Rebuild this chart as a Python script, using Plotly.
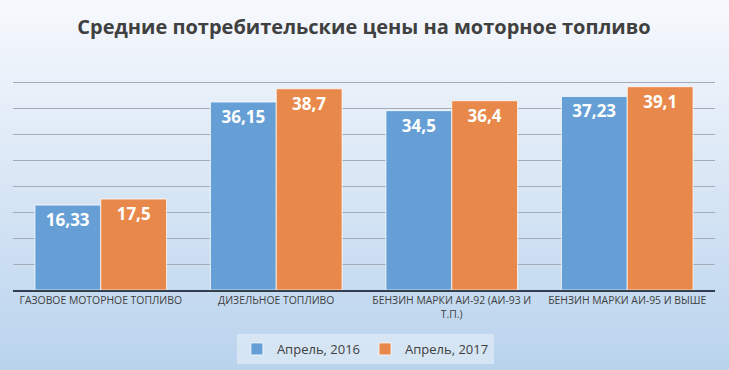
import plotly.graph_objects as go

categories = ["ГАЗОВОЕ МОТОРНОЕ ТОПЛИВО", "ДИЗЕЛЬНОЕ ТОПЛИВО",
              "БЕНЗИН МАРКИ АИ-92 (АИ-93 И<br>Т.П.)", "БЕНЗИН МАРКИ АИ-95 И ВЫШЕ"]
series_names = ["Апрель, 2016", "Апрель, 2017"]
values_2016 = [16.33, 36.15, 34.5, 37.23]
values_2017 = [17.5, 38.7, 36.4, 39.1]
title_text = "Средние потребительские цены на моторное топливо"

W, H = 729, 370
ml, mr, mt, mb = 13, 14, 81, 80
pw, ph = W - ml - mr, H - mt - mb

def lab(v):
    return str(v).replace(".", ",")

fig = go.Figure()
for name, vals, col in [(series_names[0], values_2016, "#659fd5"),
                        (series_names[1], values_2017, "#e8894b")]:
    fig.add_trace(go.Bar(
        x=categories, y=vals, name=name,
        marker=dict(color=col, line=dict(color="rgba(255,255,255,0.75)", width=1)),
        text=[lab(v) for v in vals], textposition="inside", insidetextanchor="end",
        textfont=dict(family="Open Sans", size=17, color="white", weight="bold"),
        textangle=0,
    ))

svg = ("data:image/svg+xml;utf8,<svg xmlns='http://www.w3.org/2000/svg' width='100' height='100' "
       "viewBox='0 0 100 100' preserveAspectRatio='none'>"
       "<defs><linearGradient id='g' x1='0' y1='0' x2='0' y2='1'>"
       "<stop offset='0' stop-color='%23f7f9fd'/><stop offset='1' stop-color='%23b9d3ed'/>"
       "</linearGradient></defs><rect x='0' y='0' width='100' height='100' fill='url(%23g)'/></svg>")

fig.add_layout_image(dict(
    source=svg, xref="paper", yref="paper",
    x=-ml / pw, y=1 + mt / ph, sizex=W / pw, sizey=H / ph,
    xanchor="left", yanchor="top", sizing="stretch", layer="below",
))

fig.update_layout(
    width=W, height=H,
    margin=dict(l=ml, r=mr, t=mt, b=mb, autoexpand=False),
    paper_bgcolor="#d6e4f3", plot_bgcolor="rgba(0,0,0,0)",
    barmode="group", bargap=0.25, bargroupgap=0.0,
    title=dict(text=title_text, x=0.5, xanchor="center", xref="paper",
               y=1 - 27 / H, yanchor="middle",
               font=dict(family="Open Sans", size=20, color="#404040", weight="bold")),
    legend=dict(orientation="h", x=0.502, xanchor="center", y=-59 / ph, yanchor="middle",
                bgcolor="rgba(235,242,250,0.55)",
                font=dict(family="Open Sans", size=13, color="#404040"),
                itemwidth=30, traceorder="normal"),
    font=dict(family="Open Sans"),
    showlegend=True,
)
fig.update_yaxes(range=[0, 40.2], tick0=0, dtick=5, showgrid=True, gridcolor="#a3adb8", gridwidth=1,
                 showticklabels=False, zeroline=False, showline=False, automargin=False)
fig.update_xaxes(showline=True, linecolor="#333f4f", linewidth=2, ticks="", automargin=False,
                 tickfont=dict(family="Open Sans", size=10.4, color="#404040"))

fig.write_html("out.html", config={"displayModeBar": False},
               post_script="document.body.style.margin='0';document.body.style.overflow='hidden';")
